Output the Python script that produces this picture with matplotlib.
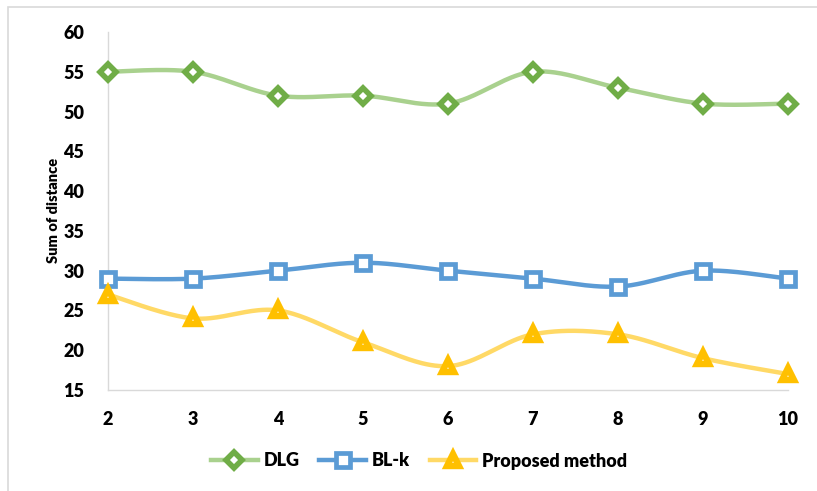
import numpy as np
import matplotlib
matplotlib.use("Agg")
import matplotlib.pyplot as plt
from matplotlib.lines import Line2D
from matplotlib.patches import Rectangle

k_values = [2, 3, 4, 5, 6, 7, 8, 9, 10]
dlg = [55, 55, 52, 52, 51, 55, 53, 51, 51]
blk = [29, 29, 30, 31, 30, 29, 28, 30, 29]
proposed = [27, 24, 25, 21, 18, 22, 22, 19, 17]
series_names = ["DLG", "BL-k", "Proposed method"]
y_ticks = [15, 20, 25, 30, 35, 40, 45, 50, 55, 60]

WEIGHT = "heavy"
plt.rcParams["font.family"] = ["Lato", "DejaVu Sans"]
plt.rcParams["font.weight"] = WEIGHT


def smooth(xs, ys, n=40):
    """Cubic Bezier smoothing through every point (Catmull-Rom tangents)."""
    p = np.column_stack([xs, ys]).astype(float)
    ext = np.vstack([p[0], p, p[-1]])
    out = []
    t = np.linspace(0, 1, n)[:, None]
    for i in range(len(p) - 1):
        p0, p1 = ext[i + 1], ext[i + 2]
        c1 = p0 + (ext[i + 2] - ext[i]) / 6.0
        c2 = p1 - (ext[i + 3] - ext[i + 1]) / 6.0
        seg = ((1 - t) ** 3) * p0 + 3 * ((1 - t) ** 2) * t * c1 + 3 * (1 - t) * t ** 2 * c2 + t ** 3 * p1
        out.append(seg if i == 0 else seg[1:])
    out = np.vstack(out)
    return out[:, 0], out[:, 1]


fig = plt.figure(figsize=(8.17, 4.91), dpi=100)
fig.patches.append(Rectangle((8 / 817, -0.1), 1.0, 1 - 7 / 491 + 0.1,
                             transform=fig.transFigure, fill=False,
                             edgecolor="#d9d9d9", linewidth=1.2))
ax = fig.add_axes([108 / 817, 1 - 390 / 491, 680 / 817, 358 / 491])

# (values, line colour, marker colour, marker, size, edge width)
styles = [
    (dlg, "#a9d18e", "#70ad47", "D", 8.0, 4.0),
    (blk, "#5b9bd5", "#5b9bd5", "s", 10.0, 3.4),
    (proposed, "#ffd966", "#ffc000", "^", 8.5, 4.6),
]
handles = []
for (vals, lc, mc, mk, ms, mew), name in zip(styles, series_names):
    sx, sy = smooth(k_values, vals)
    ax.plot(sx, sy, color=lc, linewidth=3.2, solid_capstyle="round", zorder=2)
    ax.plot(k_values, vals, linestyle="none", marker=mk, markersize=ms,
            markerfacecolor="white", markeredgecolor=mc, markeredgewidth=mew,
            zorder=3, clip_on=False)
    handles.append(Line2D([], [], color=lc, linewidth=3.2, marker=mk,
                          markersize=ms, markerfacecolor="white",
                          markeredgecolor=mc, markeredgewidth=mew))

ax.set_xlim(2, 10)
ax.set_ylim(15, 60)
ax.set_xticks(k_values)
ax.set_yticks(y_ticks)
ax.tick_params(axis="both", length=0, labelsize=13)
ax.tick_params(axis="y", pad=17)
ax.tick_params(axis="x", pad=15)
for lab in ax.get_xticklabels() + ax.get_yticklabels():
    lab.set_fontweight(WEIGHT)
for side in ["top", "right"]:
    ax.spines[side].set_visible(False)
for side in ["left", "bottom"]:
    ax.spines[side].set_color("#d9d9d9")
    ax.spines[side].set_linewidth(1.0)
ax.set_ylabel("Sum of distance", fontsize=10.5, fontweight=WEIGHT)
ax.yaxis.set_label_coords((60 - 108) / 680, (390 - 210) / 358)

fig.legend(handles, series_names, loc="center", bbox_to_anchor=(419 / 817, 1 - 461 / 491),
           ncol=3, frameon=False, handlelength=2.6,
           columnspacing=1.1, handletextpad=0.3,
           prop={"weight": WEIGHT, "size": 13})

fig.savefig("out.png", dpi=100)
